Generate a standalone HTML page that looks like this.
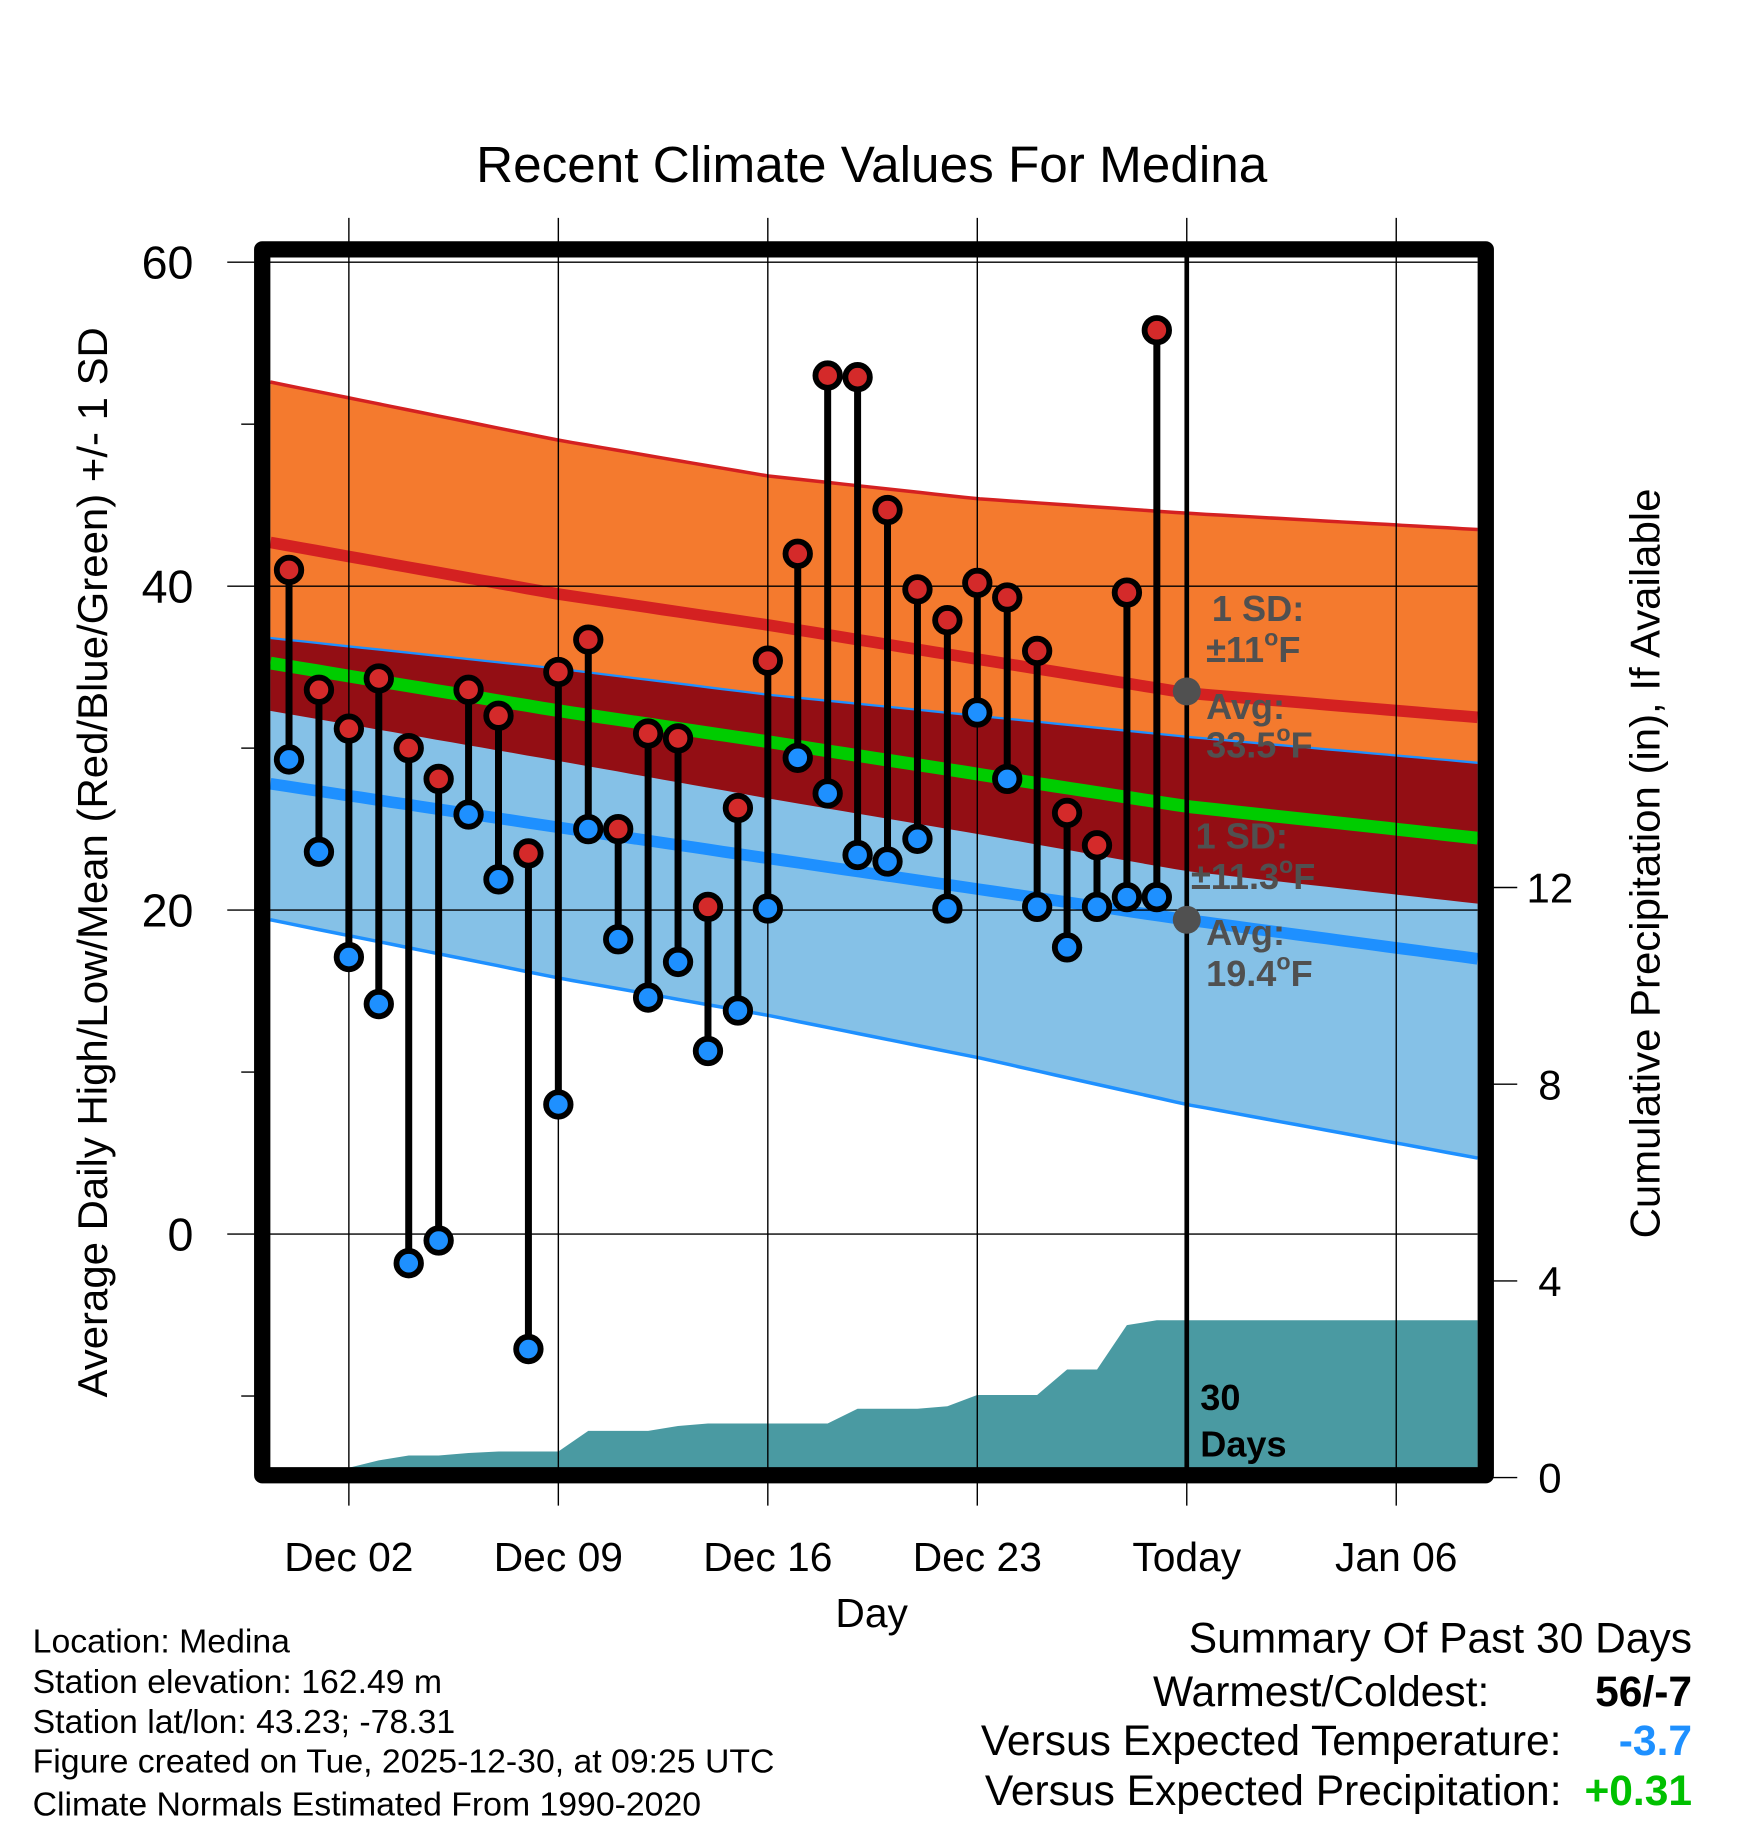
<!DOCTYPE html>
<html><head><meta charset="utf-8"><style>
html,body{margin:0;padding:0;background:#fff}
svg{display:block}
text{font-family:"Liberation Sans",Arial,sans-serif}
</style></head><body>
<svg id="chart" xmlns="http://www.w3.org/2000/svg" width="1748" height="1828" viewBox="0 0 1500 1568.7">
<rect width="1500" height="1568.7" fill="#fff"/>
<g id="plot"></g>
<text x="748" y="156" font-size="44" text-anchor="middle">Recent Climate Values For Medina</text>
<text transform="translate(92,740) rotate(-90)" font-size="36" text-anchor="middle">Average Daily High/Low/Mean (Red/Blue/Green) +/- 1 SD</text>
<text transform="translate(1424,741) rotate(-90)" font-size="36" text-anchor="middle">Cumulative Precipitation (in), If Available</text>
<text x="748" y="1396" font-size="35" text-anchor="middle">Day</text>
<g font-size="29">
<text x="28" y="1418">Location: Medina</text>
<text x="28" y="1453">Station elevation: 162.49 m</text>
<text x="28" y="1487">Station lat/lon: 43.23; -78.31</text>
<text x="28" y="1521">Figure created on Tue, 2025-12-30, at 09:25 UTC</text>
<text x="28" y="1558">Climate Normals Estimated From 1990-2020</text>
</g>
<g font-size="36.5" text-anchor="end">
<text x="1452" y="1418">Summary Of Past 30 Days</text>
<text x="1278" y="1464">Warmest/Coldest:</text>
<text x="1452" y="1464" font-weight="bold">56/-7</text>
<text x="1340" y="1506">Versus Expected Temperature:</text>
<text x="1452" y="1506" font-weight="bold" fill="#1e90ff">-3.7</text>
<text x="1340" y="1549">Versus Expected Precipitation:</text>
<text x="1452" y="1549" font-weight="bold" fill="#00c000">+0.31</text>
</g>
</svg>
<script>
// ---- data ----
const highs = [41.0,33.6,31.2,34.3,30.0,28.1,33.6,32.0,23.5,34.7,36.7,25.0,30.9,30.6,20.2,26.3,35.4,42.0,53.0,52.9,44.7,39.8,37.9,40.2,39.3,36.0,26.0,24.0,39.6,55.8];
const lows = [29.3,23.6,17.1,14.2,-1.8,-0.4,25.9,21.9,-7.1,8.0,25.0,18.2,14.6,16.8,11.3,13.8,20.1,29.4,27.2,23.4,23.0,24.4,20.1,32.2,28.1,20.2,17.7,20.2,20.8,20.8];
const precip = [0,0,0.2,0.35,0.45,0.45,0.5,0.53,0.53,0.53,0.95,0.95,0.95,1.05,1.1,1.1,1.1,1.1,1.1,1.4,1.4,1.4,1.45,1.68,1.68,1.68,2.2,2.2,3.1,3.2];
const normDays = [-0.62,9.03,16.0,23.0,30.0,39.7];
const highUpper = [52.6,49.0,46.8,45.4,44.5,43.5];
const highMean = [42.7,39.5,37.6,35.5,33.4,31.9];
const highLower = [32.3,29.2,26.9,24.7,22.4,20.4];
const lowUpper = [36.8,34.9,33.3,32.0,30.7,29.1];
const lowMean = [27.8,25.1,23.2,21.3,19.4,17.0];
const lowLower = [19.4,15.8,13.5,10.9,8.0,4.7];
const xTickDays = [2,9,16,23,30,37];
const xTickLabels = ["Dec 02","Dec 09","Dec 16","Dec 23","Today","Jan 06"];
const yTicks = [60,40,20,0];
const yMinor = [50,30,10,-10];
const pTicks = [0,4,8,12];

// ---- scales ----
const X = d => 248 + d*25.68;
const Y = v => 1059 - v*13.9;
const P = p => 1268 - p*42.2;
const L = 232, R = 1268, T = 221, B = 1260;
const NS = "http://www.w3.org/2000/svg";
const plot = document.getElementById('plot');
function mk(tag, attrs, parent){const e=document.createElementNS(NS,tag);for(const k in attrs)e.setAttribute(k,attrs[k]);(parent||plot).appendChild(e);return e;}
function interp(arr, d){
  for(let i=0;i<normDays.length-1;i++){
    if(d<=normDays[i+1]||i===normDays.length-2){const t=(d-normDays[i])/(normDays[i+1]-normDays[i]);return arr[i]+t*(arr[i+1]-arr[i]);}
  }
}
const d0=(L-248)/25.68, d1=(R-248)/25.68;
function curvePts(arr){const pts=[];for(let i=0;i<=80;i++){const d=d0+(d1-d0)*i/80;pts.push([X(d),Y(interp(arr,d))]);}return pts;}
function ptsStr(p){return p.map(q=>q[0].toFixed(1)+','+q[1].toFixed(1)).join(' ');}
function band(up,lo,fill){
  const a=curvePts(up), b=curvePts(lo).reverse();
  const e=mk('polygon',{points:ptsStr(a.concat(b)),fill:fill});
  
}
function line(arr,color,w,name){
  const e=mk('polyline',{points:ptsStr(curvePts(arr)),fill:'none',stroke:color,'stroke-width':w});
  
  
}
band(highUpper,highLower,'#f47a2e');

band(lowUpper,lowLower,'#85c1e7');

band(lowUpper,highLower,'#930e14');

line(highUpper,'#d42121',3,'high-upper-line');
line(highMean,'#d42121',10,'high-mean-line');
line(lowUpper,'#1e90ff',2,'low-upper-line');
line(lowLower,'#1e90ff',3,'low-lower-line');
line(lowMean,'#1e90ff',10,'low-mean-line');
line(lowMean.map((v,i)=>(v+highMean[i])/2),'#00cc00',11,'mean-line');

{
  let pts=[[X(-1),P(0)]];
  precip.forEach((p,i)=>pts.push([X(i),P(p)]));
  pts.push([R,P(precip[precip.length-1])],[R,P(0)]);
  const e=mk('polygon',{points:ptsStr(pts),fill:'#4a9aa2'});
  
  
}
xTickDays.forEach((d,i)=>{
  const g=mk('line',{x1:X(d),x2:X(d),y1:187,y2:1292,stroke:'#000','stroke-width':1.2});
  
  
  const t=mk('text',{x:X(d),y:1348,'font-size':35,'text-anchor':'middle'});
  t.textContent=xTickLabels[i];
  
  
});
yTicks.forEach(v=>{
  const g=mk('line',{x1:195,x2:R,y1:Y(v),y2:Y(v),stroke:'#000','stroke-width':1.2});
  
  
  const t=mk('text',{x:166,y:Y(v)+14,'font-size':40,'text-anchor':'end'});
  t.textContent=v;
  
  
});
yMinor.forEach(v=>{
  const g=mk('line',{x1:207,x2:220,y1:Y(v),y2:Y(v),stroke:'#000','stroke-width':1.2});
  
  
});
pTicks.forEach(p=>{
  const g=mk('line',{x1:1280,x2:1302,y1:P(p),y2:P(p),stroke:'#000','stroke-width':1.2});
  
  
  const t=mk('text',{x:1330,y:P(p)+13,'font-size':36,'text-anchor':'middle'});
  t.textContent=p;
  
  
});
{
  const e=mk('line',{x1:X(30),x2:X(30),y1:T,y2:B,stroke:'#000','stroke-width':4});
  
  
}
highs.forEach((h,i)=>{
  const s=mk('line',{x1:X(i),x2:X(i),y1:Y(h),y2:Y(lows[i]),stroke:'#000','stroke-width':6});
  
  
});
highs.forEach((h,i)=>{
  const a=mk('circle',{cx:X(i),cy:Y(h),r:10.5,fill:'#d42a2a',stroke:'#000','stroke-width':5});
  
  
  const b=mk('circle',{cx:X(i),cy:Y(lows[i]),r:10.5,fill:'#1e90ff',stroke:'#000','stroke-width':5});
  
  
});
function ann(x,y,txt,name,fill){
  const t=mk('text',{x:x,y:y,'font-size':31,'font-weight':'bold',fill:fill||'#505050'});
  t.innerHTML=txt;
  
  
}
{
  const c1=mk('circle',{cx:X(30),cy:Y(33.5),r:12,fill:'#505050'});
  
  
  const c2=mk('circle',{cx:X(30),cy:Y(19.4),r:12,fill:'#505050'});
  
  
}
ann(1040,533,'1 SD:','high-sd-label');
ann(1035,568,'±11<tspan font-size="20" dy="-14">o</tspan><tspan dy="14">F</tspan>','high-sd-value');
ann(1035,617,'Avg:','high-avg-label');
ann(1035,650,'33.5<tspan font-size="20" dy="-14">o</tspan><tspan dy="14">F</tspan>','high-avg-value');
ann(1026,728,'1 SD:','low-sd-label');
ann(1022,763,'±11.3<tspan font-size="20" dy="-14">o</tspan><tspan dy="14">F</tspan>','low-sd-value');
ann(1035,811,'Avg:','low-avg-label');
ann(1035,846,'19.4<tspan font-size="20" dy="-14">o</tspan><tspan dy="14">F</tspan>','low-avg-value');
ann(1030,1210,'30','days-count','#000');
ann(1030,1250,'Days','days-label','#000');
{
  const f=mk('rect',{x:225,y:214,width:1050,height:1052,fill:'none',stroke:'#000','stroke-width':14,'stroke-linejoin':'round'});
  
  
}
</script>
</body></html>
